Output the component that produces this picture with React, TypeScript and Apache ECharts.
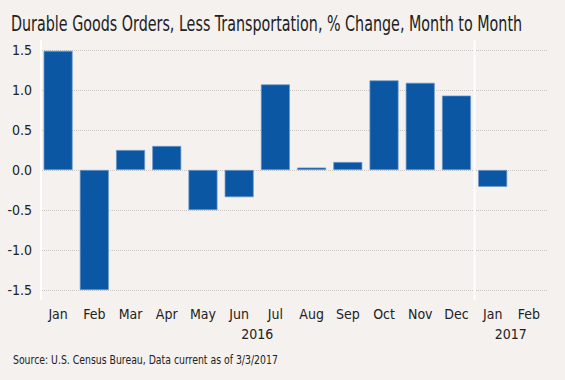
import React, { useEffect, useRef } from "react";
import * as echarts from "echarts";

const months = ["Jan", "Feb", "Mar", "Apr", "May", "Jun", "Jul", "Aug", "Sep", "Oct", "Nov", "Dec", "Jan", "Feb"];
const changes: (number | null)[] = [1.49, -1.5, 0.25, 0.3, -0.5, -0.34, 1.07, 0.03, 0.1, 1.12, 1.09, 0.93, -0.21, null];
const years = ["2016", "2017"];
const yearStart = [0, 12];
const yearEnd = [12, 14];
const yTicks = { min: -1.5, max: 1.5, interval: 0.5 };
const titleText = "Durable Goods Orders, Less Transportation, % Change, Month to Month";
const sourceText = "Source: U.S. Census Bureau, Data current as of 3/3/2017";

const FONT = "'DejaVu Sans Condensed', 'Liberation Sans Narrow', 'DejaVu Sans', sans-serif";

function measure(text: string, size: number): number {
  const c = document.createElement("canvas").getContext("2d")!;
  c.font = `${size}px ${FONT}`;
  return c.measureText(text).width;
}

export default function App() {
  const ref = useRef<HTMLDivElement>(null);
  useEffect(() => {
    document.body.style.margin = "0";
    const chart = echarts.init(ref.current!, null, { renderer: "svg" });
    const yearMids = years.map((_, i) => (yearStart[i] + yearEnd[i]) / 2);
    chart.setOption({
      animation: false,
      backgroundColor: "#f4f1ee",
      textStyle: { fontFamily: FONT },
      grid: { left: 40, right: 18, top: 50, bottom: 90 },
      xAxis: [
        {
          type: "category",
          data: months,
          position: "bottom",
          axisLine: { show: false },
          axisTick: { show: false },
          axisLabel: { color: "#222", fontSize: 14, margin: 17, fontFamily: FONT },
        },
        {
          type: "value",
          min: 0,
          max: 14,
          interval: 0.5,
          position: "bottom",
          axisLine: { show: false },
          axisTick: { show: false },
          splitLine: { show: false },
          axisLabel: {
            color: "#222",
            fontSize: 14,
            margin: 37,
            fontFamily: FONT,
            showMinLabel: false,
            showMaxLabel: false,
            formatter: (v: number) => {
              const i = yearMids.indexOf(v);
              return i >= 0 ? years[i] : "";
            },
          },
        },
      ],
      yAxis: {
        type: "value",
        min: yTicks.min,
        max: yTicks.max,
        interval: yTicks.interval,
        axisLine: { show: false },
        axisTick: { show: false },
        axisLabel: {
          color: "#222",
          fontSize: 14,
          margin: 8,
          fontFamily: FONT,
          formatter: (v: number) => v.toFixed(1),
        },
        splitLine: { lineStyle: { color: "#c9c5c1", type: [1, 1], width: 1 } },
      },
      series: [
        {
          type: "bar",
          data: changes,
          xAxisIndex: 0,
          barCategoryGap: "20%",
          itemStyle: { color: "#0b57a3", borderColor: "#6d98c8", borderWidth: 0.7 },
        },
      ],
    });
    const yTop = chart.convertToPixel({ yAxisIndex: 0 }, yTicks.max) as number;
    const yBot = chart.convertToPixel({ yAxisIndex: 0 }, yTicks.min) as number;
    const xLeft = chart.convertToPixel({ xAxisIndex: 1 }, 0) as number;
    const xSep = chart.convertToPixel({ xAxisIndex: 1 }, yearStart[1]) as number;
    const titleSize = 22;
    const sourceSize = 13;
    const titleScale = 511 / measure(titleText, titleSize);
    const sourceScale = 265 / measure(sourceText, sourceSize);
    chart.setOption({
      graphic: [
        { type: "line", shape: { x1: xLeft + 1, y1: yTop - 10, x2: xLeft + 1, y2: yBot + 10 }, style: { stroke: "#ffffff", lineWidth: 2 }, z: 10 },
        { type: "line", shape: { x1: xSep, y1: yTop - 10, x2: xSep, y2: yBot + 10 }, style: { stroke: "#ffffff", lineWidth: 2 }, z: 10 },
        {
          type: "text",
          x: 11,
          y: 24,
          scaleX: titleScale,
          style: { text: titleText, fontFamily: FONT, fontSize: titleSize, fill: "#222", align: "left", verticalAlign: "middle" },
        },
        {
          type: "text",
          x: 13,
          y: 360,
          scaleX: sourceScale,
          style: { text: sourceText, fontFamily: FONT, fontSize: sourceSize, fill: "#222", align: "left", verticalAlign: "middle" },
        },
      ],
    });
    return () => chart.dispose();
  }, []);
  return <div ref={ref} style={{ width: 565, height: 380 }} />;
}
